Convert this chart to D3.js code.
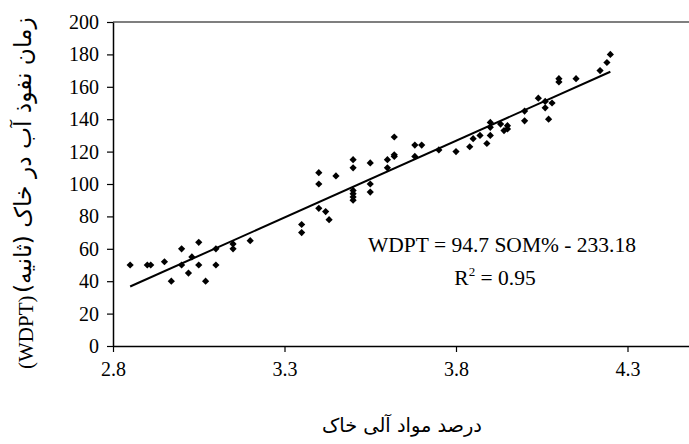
<!DOCTYPE html>
<html>
<head>
<meta charset="utf-8">
<script src="https://cdn.jsdelivr.net/npm/d3@7"></script>
<style>
  html, body { margin: 0; padding: 0; background: #fff; }
  svg { display: block; }
</style>
</head>
<body>
<svg id="chart" width="689" height="444"></svg>
<script>
// Daten: organischer Anteil (SOM %) und Eindringzeit (WDPT)
const som = [
  2.85, 2.90, 2.91, 2.95, 2.97, 3.00, 3.00, 3.02, 3.03, 3.05, 3.05, 3.07, 3.10, 3.10,
  3.15, 3.15, 3.20, 3.35, 3.35,
  3.40, 3.40, 3.40, 3.42, 3.43, 3.45, 3.50, 3.50, 3.50, 3.50, 3.50, 3.50,
  3.55, 3.55, 3.55, 3.60, 3.60, 3.62, 3.62, 3.62, 3.68, 3.68, 3.70, 3.75,
  3.80, 3.84, 3.85, 3.87, 3.89, 3.90, 3.90, 3.90,
  3.93, 3.94, 3.95, 3.95, 4.00, 4.00, 4.04, 4.06, 4.06, 4.07, 4.08, 4.10, 4.10,
  4.15, 4.22, 4.24, 4.25
];
const wdpt = [
  50, 50, 50, 52, 40, 60, 50, 45, 55, 64, 50, 40, 60, 50,
  63, 60, 65, 75, 70,
  107, 100, 85, 83, 78, 105, 115, 110, 96, 94, 92, 90,
  113, 100, 95, 115, 110, 129, 118, 117, 124, 117, 124, 121,
  120, 123, 128, 130, 125, 130, 135, 138,
  137, 133, 134, 136, 139, 145, 153, 151, 147, 140, 150, 165, 163,
  165, 170, 175, 180
];

// Trendlinie
const slope = 94.7;
const intercept = -233.18;
const trendX = [2.85, 4.25];

// Achsenbeschriftungen
const xTicks = [2.8, 3.3, 3.8, 4.3];
const yTicks = [0, 20, 40, 60, 80, 100, 120, 140, 160, 180, 200];
const equationLines = ["WDPT = 94.7 SOM% - 233.18", "R", "= 0.95"];
const xTitle = "درصد مواد آلی خاک";
const yTitleFa = "زمان نفوذ آب در خاک (ثانیه)";
const yTitleEn = "(WDPT)";

const svg = d3.select("#chart");
const width = 689;
const height = 444;

const plotLeft = 113;
const plotTop = 22;
const plotBottom = 346;
const unitX = 343;   // Pixel pro SOM-Einheit

const x = d3.scaleLinear()
  .domain([2.8, 4.8])
  .range([plotLeft, plotLeft + unitX * 2]);

const y = d3.scaleLinear()
  .domain([0, 200])
  .range([plotBottom, plotTop]);

const serif = "'Liberation Serif', 'Times New Roman', serif";
const persian = "'DejaVu Sans', sans-serif";

// Text auf gewünschte Länge bringen (Schriftgröße anpassen)
function fitText(sel, targetLength) {
  const len = sel.node().getComputedTextLength();
  const size = parseFloat(sel.style("font-size"));
  sel.style("font-size", (size * targetLength / len).toFixed(2) + "px");
}

// Obere Rahmenlinie
svg.append("line")
  .attr("x1", plotLeft)
  .attr("x2", width)
  .attr("y1", y(200))
  .attr("y2", y(200))
  .attr("stroke", "#555")
  .attr("stroke-width", 1.5);

// Y-Achse
const yAxis = svg.append("g")
  .attr("transform", `translate(${plotLeft},0)`)
  .call(d3.axisLeft(y).tickValues(yTicks).tickSize(6).tickPadding(8).tickSizeOuter(0));

// X-Achse
const xAxis = svg.append("g")
  .attr("transform", `translate(0,${plotBottom})`)
  .call(d3.axisBottom(x).tickValues(xTicks).tickFormat(d3.format(".1f")).tickSize(6).tickPadding(10).tickSizeOuter(0));

[yAxis, xAxis].forEach(g => {
  g.select(".domain").attr("stroke", "#000").attr("stroke-width", 1.5);
  g.selectAll(".tick line").attr("stroke", "#000").attr("stroke-width", 1.2);
  g.selectAll(".tick text")
    .attr("fill", "#000")
    .style("font-family", serif)
    .style("font-size", "20px");
});

// Trendlinie zeichnen
svg.append("line")
  .attr("x1", x(trendX[0]))
  .attr("y1", y(slope * trendX[0] + intercept))
  .attr("x2", x(trendX[1]))
  .attr("y2", y(slope * trendX[1] + intercept))
  .attr("stroke", "#000")
  .attr("stroke-width", 2);

// Rauten-Marker
const diamond = d3.symbol().type(d3.symbolSquare).size(26);
svg.append("g")
  .selectAll("path")
  .data(som.map((s, i) => [s, wdpt[i]]))
  .join("path")
  .attr("d", diamond)
  .attr("transform", d => `translate(${x(d[0])},${y(d[1])}) rotate(45)`)
  .attr("fill", "#000");

// Gleichung
svg.append("text")
  .attr("x", 368)
  .attr("y", 252)
  .style("font-family", serif)
  .style("font-size", "21.5px")
  .text(equationLines[0]);

const r2 = svg.append("text")
  .attr("x", 495)
  .attr("y", 285)
  .attr("text-anchor", "middle")
  .style("font-family", serif)
  .style("font-size", "21.5px");
r2.append("tspan").text(equationLines[1]);
r2.append("tspan").attr("dy", -9).style("font-size", "13px").text("2");
r2.append("tspan").attr("dy", 9).text(" " + equationLines[2]);

// X-Titel
const xt = svg.append("text")
  .attr("x", 402)
  .attr("y", 432)
  .attr("text-anchor", "middle")
  .attr("direction", "rtl")
  .style("font-family", persian)
  .style("font-size", "18px")
  .text(xTitle);
fitText(xt, 160);

// Y-Titel (gedreht)
svg.append("text")
  .attr("transform", "translate(33,369) rotate(-90)")
  .attr("text-anchor", "start")
  .style("font-family", serif)
  .style("font-size", "21px")
  .text(yTitleEn);

const yt = svg.append("text")
  .attr("transform", "translate(31,293) rotate(-90)")
  .attr("text-anchor", "end")
  .attr("direction", "rtl")
  .style("font-family", persian)
  .style("font-size", "18px")
  .text(yTitleFa);
fitText(yt, 276);
</script>
</body>
</html>
